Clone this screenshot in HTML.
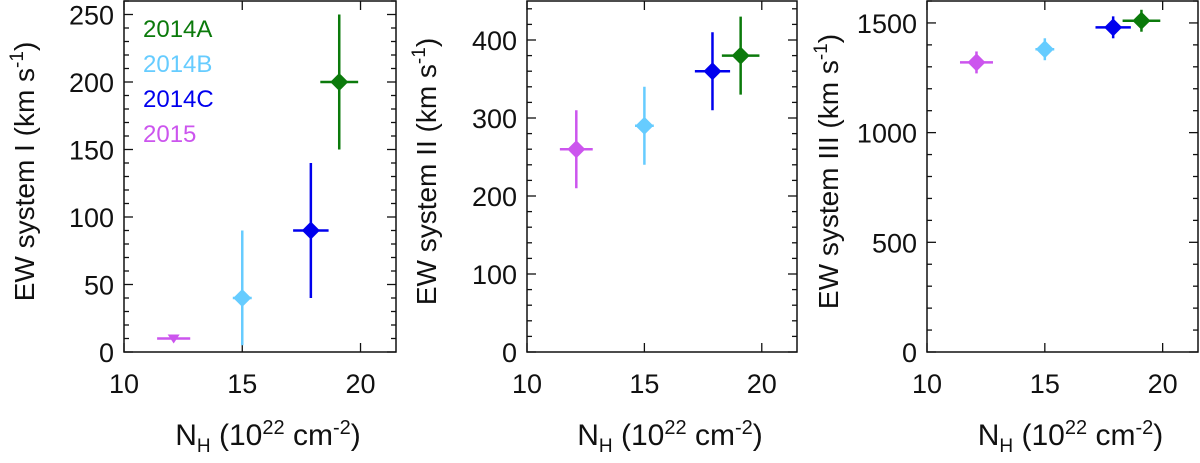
<!DOCTYPE html>
<html><head><meta charset="utf-8"><style>
body{margin:0;background:#fff}
svg text{font-family:"Liberation Sans",sans-serif;fill:#111}
</style></head><body>
<svg id="c" width="1200" height="458"></svg>
<script>
const labels=["2014A","2014B","2014C","2015"];
const colors=["#0b7a0b","#66ccff","#0000ee","#cc55ee"];
const nh=[19.1,15.0,17.9,12.1];
const nhErr=[0.8,0.4,0.75,0.7];
const ew1=[200,40,90,10];
const ew1Err=[50,50,50,0];
const ew2=[380,290,360,260];
const ew2Err=[50,50,50,50];
const ew3=[1510,1380,1480,1320];
const ew3Err=[50,50,50,50];
const xTicks=[10,15,20];
const yTicks1=[0,50,100,150,200,250];
const yTicks2=[0,100,200,300,400];
const yTicks3=[0,500,1000,1500];
const NS="http://www.w3.org/2000/svg";
const svg=document.getElementById('c');
function el(t,a,p){const e=document.createElementNS(NS,t);for(const k in a)e.setAttribute(k,a[k]);(p||svg).appendChild(e);return e;}
const panels=[
 {L:124,R:396,ymax:260,ticks:yTicks1,minor:10,ys:ew1,ye:ew1Err,title:"EW system I",tx:22,legend:true},
 {L:527,R:797,ymax:450,ticks:yTicks2,minor:20,ys:ew2,ye:ew2Err,title:"EW system II",tx:424},
 {L:927,R:1198,ymax:1600,ticks:yTicks3,minor:100,ys:ew3,ye:ew3Err,title:"EW system III",tx:826}
];
const T=1,B=352,x0=10;
panels.forEach((p,pi)=>{
 const g=el('g',{});
 
 
 const pxPer=(p.R-p.L)/11.5;
 const X=v=>p.L+(v-x0)*pxPer;
 const Y=v=>B-(Math.max(v,p.minor*0.5)/p.ymax)*(B-T);
 const box=el('rect',{x:p.L,y:T,width:p.R-p.L,height:B-T,fill:'none',stroke:'#111','stroke-width':1.5},g);
 
 
 const Yt=v=>B-(v/p.ymax)*(B-T);
 for(let v=0;v<=p.ymax;v+=p.minor){
  const maj=p.ticks.includes(v);const l=maj?9:5;
  el('line',{x1:p.L,x2:p.L+l,y1:Yt(v),y2:Yt(v),stroke:'#111','stroke-width':1.3},g);
  el('line',{x1:p.R,x2:p.R-l,y1:Yt(v),y2:Yt(v),stroke:'#111','stroke-width':1.3},g);
 }
 p.ticks.forEach(v=>{const t=el('text',{x:p.L-10,y:Yt(v)+10,'text-anchor':'end','font-size':27},g);t.textContent=v;
  });
 xTicks.forEach(v=>{
  el('line',{x1:X(v),x2:X(v),y1:B,y2:B-9,stroke:'#111','stroke-width':1.3},g);
  el('line',{x1:X(v),x2:X(v),y1:T,y2:T+9,stroke:'#111','stroke-width':1.3},g);
  const t=el('text',{x:X(v),y:393,'text-anchor':'middle','font-size':27},g);t.textContent=v;
  
 });
 const yt=el('text',{transform:`translate(${p.tx+12},${(T+B)/2-5}) rotate(-90)`,'text-anchor':'middle','font-size':28},g);
 yt.innerHTML=p.title+' (km s<tspan dy="-11" font-size="19">-1</tspan><tspan dy="11">)</tspan>';
 
 const xt=el('text',{x:(p.L+p.R)/2+8,y:445,'text-anchor':'middle','font-size':30},g);
 xt.innerHTML='N<tspan dy="7" font-size="19">H</tspan><tspan dy="-7"> (10</tspan><tspan dy="-11" font-size="20">22</tspan><tspan dy="11"> cm</tspan><tspan dy="-11" font-size="20">-2</tspan><tspan dy="11">)</tspan>';
 
 nh.forEach((n,i)=>{
  const c=colors[i];const cx=X(n),cy=Y(p.ys[i]);
  const pg=el('g',{},g);
  
  
  el('line',{x1:X(n-nhErr[i]),x2:X(n+nhErr[i]),y1:cy,y2:cy,stroke:c,'stroke-width':2.5},pg);
  if(p.ye[i]>0)el('line',{x1:cx,x2:cx,y1:Y(p.ys[i]-p.ye[i]),y2:Y(p.ys[i]+p.ye[i]),stroke:c,'stroke-width':2.5},pg);
  if(pi===0&&i===3){el('polygon',{points:`${cx-6},${cy-4} ${cx+6},${cy-4} ${cx},${cy+5}`,fill:c},pg);}
  else el('polygon',{points:`${cx},${cy-9} ${cx+9},${cy} ${cx},${cy+9} ${cx-9},${cy}`,fill:c},pg);
 });
 if(p.legend){labels.forEach((l,i)=>{const t=el('text',{x:143,y:37+i*35,'font-size':24,style:'fill:'+colors[i]},g);t.textContent=l;
  });}
});
</script>
</body></html>
